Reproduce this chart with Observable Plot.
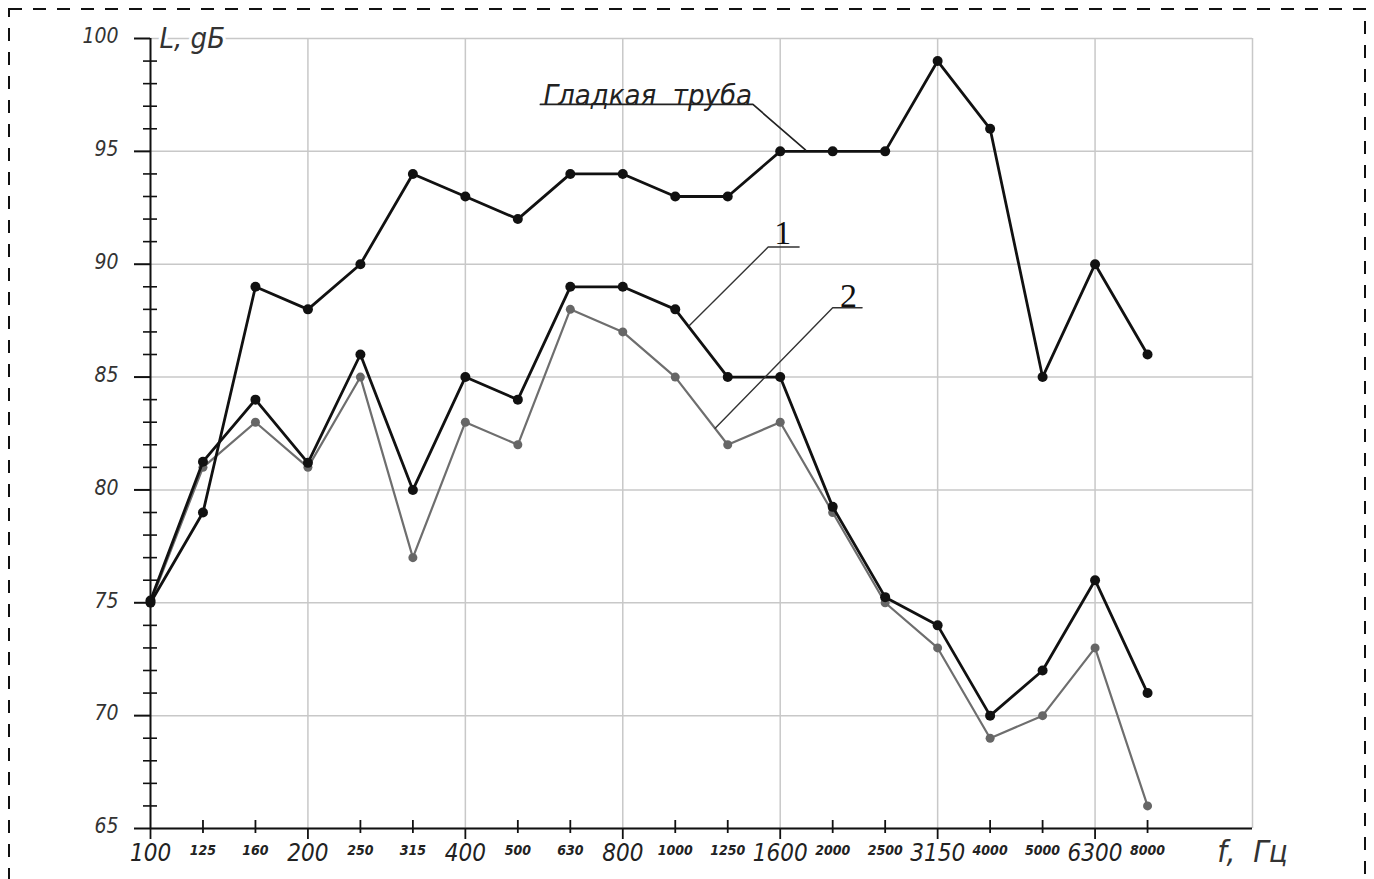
<!DOCTYPE html>
<html>
<head>
<meta charset="utf-8">
<script src="https://cdn.jsdelivr.net/npm/d3@7"></script>
<script src="https://cdn.jsdelivr.net/npm/@observablehq/plot@0.6"></script>
<style>
  body { margin: 0; background: #fff; }
  #wrap { position: relative; width: 1374px; height: 879px; overflow: hidden; background: #fff; }
  #wrap svg { position: absolute; left: 0; top: 0; }
</style>
</head>
<body>
<div id="wrap"></div>
<script>
// ---- data ----
const freqs = ["100","125","160","200","250","315","400","500","630","800","1000","1250","1600","2000","2500","3150","4000","5000","6300","8000"];
const octaveFreqs = ["100","200","400","800","1600","3150","6300"];
const smoothPipe = [75, 79, 89, 88, 90, 94, 93, 92, 94, 94, 93, 93, 95, 95, 95, 99, 96, 85, 90, 86];
const series1    = [75.1, 81.25, 84, 81.2, 86, 80, 85, 84, 89, 89, 88, 85, 85, 79.25, 75.25, 74, 70, 72, 76, 71];
const series2    = [75, 81, 83, 81, 85, 77, 83, 82, 88, 87, 85, 82, 83, 79, 75, 73, 69, 70, 73, 66];
const yTicks = [65, 70, 75, 80, 85, 90, 95, 100];
const yMinorTicks = [66,67,68,69,71,72,73,74,76,77,78,79,81,82,83,84,86,87,88,89,91,92,93,94,96,97,98,99];
const xGridIdx = [3, 6, 9, 12, 15, 18, 21];
const yLabel = "L, gБ";
const xLabel = "f,  Гц";
const labelSmooth = "Гладкая  труба";
const label1 = "1";
const label2 = "2";
// leader lines (data units: x = band index, y = dB)
const leaderSmooth = [{x: 7.43, y: 97.08}, {x: 11.48, y: 97.08}, {x: 12.48, y: 95.07}];
const leader1 = [{x: 12.36, y: 90.76}, {x: 11.77, y: 90.76}, {x: 10.27, y: 87.28}];
const leader2 = [{x: 13.56, y: 88.07}, {x: 13.0, y: 88.07}, {x: 10.76, y: 82.73}];

// ---- table ----
const rows = freqs.map((f, i) => ({i, f, smooth: smoothPipe[i], s1: series1[i], s2: series2[i]}));
const octave = rows.filter(d => octaveFreqs.includes(d.f));
const minor = rows.filter(d => !octaveFreqs.includes(d.f));

const isoFont = "'DejaVu Sans Condensed', 'Liberation Sans Narrow', 'Liberation Sans', sans-serif";
const grid = "#c8c8c8";

const chart = Plot.plot({
  width: 1374,
  height: 879,
  marginLeft: 150,
  marginRight: 122,
  marginTop: 38,
  marginBottom: 51,
  x: {domain: [0, 21], axis: null},
  y: {domain: [65, 100], axis: null},
  style: {background: "transparent", fontFamily: isoFont},
  marks: [
    // grid
    Plot.ruleY(yTicks, {stroke: grid, strokeWidth: 1.5}),
    Plot.ruleX(xGridIdx, {stroke: grid, strokeWidth: 1.5}),
    // axes
    Plot.ruleX([0], {stroke: "#111", strokeWidth: 2}),
    Plot.ruleY([65], {x1: 0, x2: 21, stroke: "#111", strokeWidth: 2}),
    // y ticks
    Plot.ruleY(yTicks, {x1: 0, x2: 0, insetLeft: -16, insetRight: 0, stroke: "#111", strokeWidth: 2}),
    Plot.ruleY(yMinorTicks, {x1: 0, x2: 0, insetLeft: -7, insetRight: -7, stroke: "#111", strokeWidth: 1.6}),
    // x ticks
    Plot.ruleX(minor, {x: "i", y1: 65, y2: 65, insetTop: -8, insetBottom: -5, stroke: "#111", strokeWidth: 1.8}),
    Plot.ruleX(octave, {x: "i", y1: 65, y2: 65, insetTop: 0, insetBottom: -11, stroke: "#111", strokeWidth: 1.8}),
    // y tick labels
    Plot.text(yTicks, {x: 0, y: d => d, text: d => String(d), textAnchor: "end", dx: -32, dy: -2,
      fontSize: 21, fontStyle: "italic", fill: "#333"}),
    // x tick labels
    Plot.text(octave, {x: "i", y: 65, text: "f", dy: 25, fontSize: 24, fontStyle: "italic", fill: "#222"}),
    Plot.text(minor, {x: "i", y: 65, text: "f", dy: 22, fontSize: 14, fontStyle: "italic", fontWeight: "bold", fill: "#222"}),
    // axis titles
    Plot.text([yLabel], {x: 0, y: 100, text: d => d, textAnchor: "start", dx: 9, dy: 0,
      fontSize: 29, fontStyle: "italic", fill: "#333", stroke: "white", strokeWidth: 6, paintOrder: "stroke"}),
    Plot.text([xLabel], {x: 21, y: 65, text: d => d, textAnchor: "middle", dy: 24,
      fontSize: 31, fontStyle: "italic", fill: "#333"}),
    // series 2 (grey)
    Plot.line(rows, {x: "i", y: "s2", stroke: "#6e6e6e", strokeWidth: 2.2}),
    Plot.dot(rows, {x: "i", y: "s2", r: 4.5, fill: "#666", stroke: "none"}),
    // series 1
    Plot.line(rows, {x: "i", y: "s1", stroke: "#111", strokeWidth: 2.8}),
    Plot.dot(rows, {x: "i", y: "s1", r: 5, fill: "#111", stroke: "none"}),
    // smooth pipe
    Plot.line(rows, {x: "i", y: "smooth", stroke: "#111", strokeWidth: 2.8}),
    Plot.dot(rows, {x: "i", y: "smooth", r: 5, fill: "#111", stroke: "none"}),
    // annotations
    Plot.line(leaderSmooth, {x: "x", y: "y", stroke: "#222", strokeWidth: 1.7}),
    Plot.line(leader1, {x: "x", y: "y", stroke: "#333", strokeWidth: 1.4}),
    Plot.line(leader2, {x: "x", y: "y", stroke: "#333", strokeWidth: 1.4}),
    Plot.text([labelSmooth], {x: 7.49, y: 97.08, text: d => d, textAnchor: "start", lineAnchor: "bottom", dy: 1,
      fontSize: 29, fontStyle: "italic", fill: "#222"}),
    Plot.text([label1], {x: 12.05, y: 90.76, text: d => d, textAnchor: "middle", lineAnchor: "bottom", dy: -3,
      fontSize: 34, fontFamily: "'Liberation Serif', serif", fill: "#111"}),
    Plot.text([label2], {x: 13.3, y: 88.07, text: d => d, textAnchor: "middle", lineAnchor: "bottom", dy: -1,
      fontSize: 34, fontFamily: "'Liberation Serif', serif", fill: "#111"})
  ]
});

const wrap = document.getElementById("wrap");
wrap.appendChild(chart);

// dashed page border
const border = d3.create("svg").attr("width", 1374).attr("height", 879);
border.append("rect")
  .attr("x", 9).attr("y", 9).attr("width", 1356).attr("height", 1000)
  .attr("fill", "none").attr("stroke", "#111").attr("stroke-width", 2)
  .attr("stroke-dasharray", "13 11");
wrap.appendChild(border.node());
</script>
</body>
</html>
